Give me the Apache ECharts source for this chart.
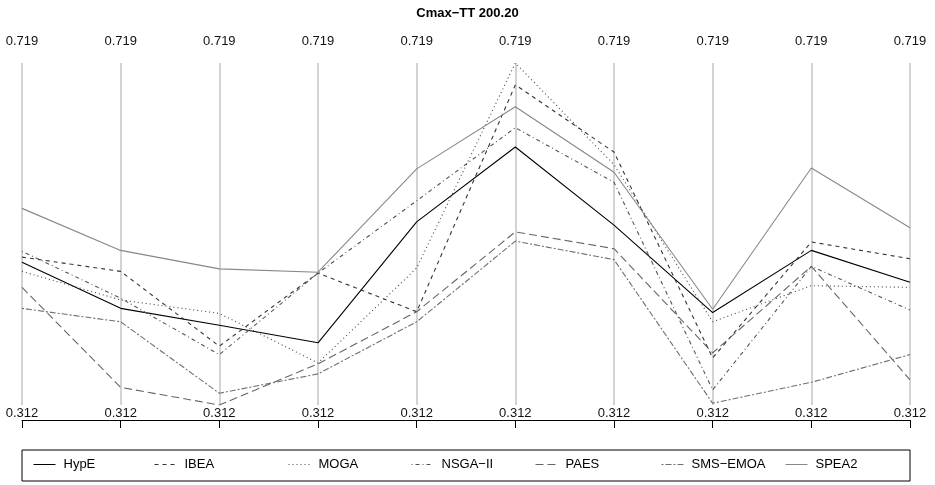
<!DOCTYPE html>
<html>
<head>
<meta charset="utf-8">
<script src="https://cdn.jsdelivr.net/npm/echarts@6/dist/echarts.min.js"></script>
<style>
  html, body { margin: 0; padding: 0; background: #fff; }
  #chart { width: 935px; height: 485px; }
</style>
</head>
<body>
<div id="chart"></div>
<script>
// axes of the parallel plot (all scaled to the same range)
const axisNames = ["V1", "V2", "V3", "V4", "V5", "V6", "V7", "V8", "V9", "V10"];
const axisMin = 0.312;
const axisMax = 0.719;

// series values, one per axis
const seriesNames = ["HypE", "IBEA", "MOGA", "NSGA\u2212II", "PAES", "SMS\u2212EMOA", "SPEA2"];
const hype = [0.482, 0.427, 0.407, 0.386, 0.530, 0.619, 0.526, 0.422, 0.496, 0.458];
const ibea = [0.488, 0.471, 0.382, 0.469, 0.423, 0.693, 0.613, 0.368, 0.506, 0.486];
const moga = [0.471, 0.437, 0.421, 0.362, 0.475, 0.719, 0.598, 0.411, 0.454, 0.452];
const nsga2 = [0.495, 0.439, 0.372, 0.469, 0.555, 0.642, 0.577, 0.330, 0.477, 0.425];
const paes = [0.452, 0.333, 0.312, 0.361, 0.423, 0.518, 0.498, 0.374, 0.477, 0.342];
const smsemoa = [0.427, 0.411, 0.326, 0.349, 0.411, 0.507, 0.485, 0.314, 0.339, 0.372];
const spea2 = [0.546, 0.496, 0.474, 0.470, 0.593, 0.667, 0.589, 0.426, 0.594, 0.523];
const seriesData = [hype, ibea, moga, nsga2, paes, smsemoa, spea2];

// line styles roughly like R's lty 1..6 plus a grey solid
const lineStyles = [
  { color: "#000000", type: "solid" },
  { color: "#333333", type: [4, 4] },
  { color: "#444444", type: [1, 3] },
  { color: "#555555", type: [1, 3, 4, 3] },
  { color: "#666666", type: [8, 4] },
  { color: "#6f6f6f", type: [2, 2, 6, 2] },
  { color: "#888888", type: "solid" },
];
const legendLeft = [33, 154, 288, 411, 535, 661, 785];

const chart = echarts.init(document.getElementById("chart"));

const labelFont = { fontFamily: "Liberation Sans, Arial, sans-serif", fontSize: 13, color: "#111" };

const option = {
  animation: false,
  backgroundColor: "#fff",
  title: {
    text: "Cmax\u2212TT 200.20",
    left: "center",
    top: 2,
    textStyle: { fontFamily: "Liberation Sans, Arial, sans-serif", fontSize: 13, fontWeight: "bold", color: "#000" },
  },
  grid: { left: 22, right: 25, top: 63, bottom: 80 },
  xAxis: [
    {
      type: "category",
      data: axisNames,
      boundaryGap: false,
      position: "bottom",
      axisLine: { show: false },
      axisTick: { show: false },
      axisLabel: { ...labelFont, margin: 2, formatter: () => axisMin.toFixed(3) },
      splitLine: { show: true, lineStyle: { color: "#c4c4c4", width: 1.5 } },
    },
    {
      type: "category",
      data: axisNames,
      boundaryGap: false,
      position: "bottom",
      offset: 15,
      axisLine: { show: true, lineStyle: { color: "#000", width: 1 } },
      axisTick: { show: true, length: 8, lineStyle: { color: "#000" } },
      axisLabel: { show: false },
      splitLine: { show: false },
    },
    {
      type: "category",
      data: axisNames,
      boundaryGap: false,
      position: "top",
      axisLine: { show: false },
      axisTick: { show: false },
      axisLabel: { ...labelFont, margin: 15, formatter: () => axisMax.toFixed(3) },
      splitLine: { show: false },
    },
  ],
  yAxis: { type: "value", min: axisMin, max: axisMax, show: false },
  legend: seriesNames.map((name, i) => ({
    data: [name],
    left: legendLeft[i],
    top: 458,
    itemWidth: 22,
    itemHeight: 12,
    itemGap: 0,
    padding: 0,
    itemStyle: { opacity: 0 },
    lineStyle: { width: 1 },
    textStyle: { fontFamily: "Liberation Sans, Arial, sans-serif", fontSize: 13, color: "#000", padding: [0, 0, 0, 3] },
  })),
  graphic: [
    {
      type: "rect",
      shape: { x: 22, y: 450, width: 888, height: 31 },
      style: { fill: "none", stroke: "#000", lineWidth: 1 },
      silent: true,
    },
  ],
  series: seriesNames.map((name, i) => ({
    name: name,
    type: "line",
    data: seriesData[i],
    symbol: "none",
    lineStyle: { color: lineStyles[i].color, type: lineStyles[i].type, width: 1.1 },
    itemStyle: { color: lineStyles[i].color },
  })),
};

chart.setOption(option);
</script>
</body>
</html>
